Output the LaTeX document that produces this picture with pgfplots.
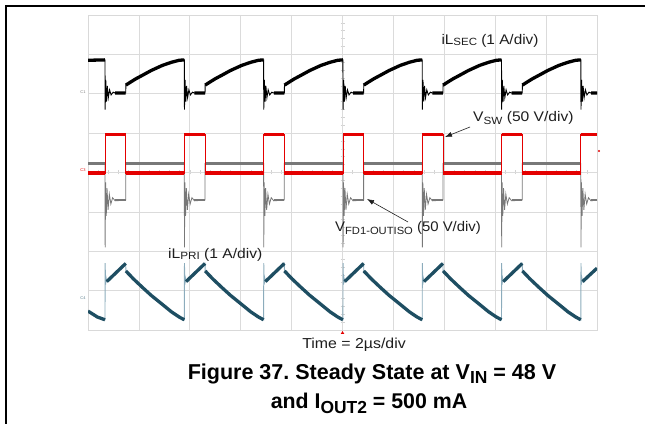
\documentclass[border=0pt]{standalone}
\usepackage{pgfplots}
\pgfplotsset{compat=1.18}
\usepackage{graphicx}
\usepackage{fontspec}
\setmainfont{Liberation Sans}
\frenchspacing
\usetikzlibrary{arrows.meta}
\definecolor{teal4}{RGB}{30,78,98}
\definecolor{teallt}{RGB}{140,172,188}
\definecolor{redc}{RGB}{228,0,0}
\definecolor{grayc}{RGB}{120,120,120}
\definecolor{txt}{RGB}{30,30,30}
\newcommand{\sm}[2]{\raisebox{-#1bp}{\fontsize{10.5}{10.5}\selectfont #2}}
\begin{document}
\begin{tikzpicture}
\useasboundingbox (0,0) rectangle (645bp,424bp);
\draw[line width=1.6bp] (6bp,0) -- (6bp,418bp) -- (645bp,418bp);
% centre-line graticule ticks (background)
\foreach \i in {1,...,49} \draw[gray!35, line width=0.5bp] ({(88+\i*10.18)*1bp},249.5bp) -- ++(0,4bp);
\foreach \i in {1,...,39} \draw[gray!35, line width=0.5bp] (340.5bp,{(94+\i*7.875)*1bp}) -- ++(4bp,0);
\begin{axis}[at={(88bp,94bp)}, anchor=south west, scale only axis,
  width=509bp, height=315bp, xmin=0, xmax=10, ymin=0, ymax=8,
  xtick={0,...,10}, ytick={0,...,8}, xticklabels={}, yticklabels={},
  major tick length=0pt, grid=major,
  major grid style={draw=gray!28, line width=0.7bp},
  axis line style={draw=gray!30, line width=0.8bp},
  unbounded coords=jump, clip=true]
% ---- iL_SEC (black), thin full trace
\addplot[black, line width=0.9bp] coordinates {
(0,6.85)(0.334,6.86)(0.337,5.6)(0.349,6.35)(0.364,5.8)(0.379,6.2)(0.399,5.9)(0.424,6.1)(0.454,5.97)(0.494,6.04)(0.534,6.02)(0.741,6.02)
(0.744,6.22)(0.841,6.30)(0.941,6.38)(1.071,6.47)(1.241,6.59)(1.461,6.72)(1.641,6.80)(1.791,6.85)
(1.892,6.86)(1.895,5.6)(1.907,6.35)(1.922,5.8)(1.937,6.2)(1.957,5.9)(1.982,6.1)(2.012,5.97)(2.052,6.04)(2.092,6.02)(2.299,6.02)
(2.302,6.22)(2.399,6.30)(2.499,6.38)(2.629,6.47)(2.799,6.59)(3.019,6.72)(3.199,6.80)(3.349,6.85)
(3.450,6.86)(3.453,5.6)(3.465,6.35)(3.480,5.8)(3.495,6.2)(3.515,5.9)(3.540,6.1)(3.570,5.97)(3.610,6.04)(3.650,6.02)(3.857,6.02)
(3.860,6.22)(3.957,6.30)(4.057,6.38)(4.187,6.47)(4.357,6.59)(4.577,6.72)(4.757,6.80)(4.907,6.85)
(5.008,6.86)(5.011,5.6)(5.023,6.35)(5.038,5.8)(5.053,6.2)(5.073,5.9)(5.098,6.1)(5.128,5.97)(5.168,6.04)(5.208,6.02)(5.415,6.02)
(5.418,6.22)(5.515,6.30)(5.615,6.38)(5.745,6.47)(5.915,6.59)(6.135,6.72)(6.315,6.80)(6.465,6.85)
(6.566,6.86)(6.569,5.6)(6.581,6.35)(6.596,5.8)(6.611,6.2)(6.631,5.9)(6.656,6.1)(6.686,5.97)(6.726,6.04)(6.766,6.02)(6.973,6.02)
(6.976,6.22)(7.073,6.30)(7.173,6.38)(7.303,6.47)(7.473,6.59)(7.693,6.72)(7.873,6.80)(8.023,6.85)
(8.124,6.86)(8.127,5.6)(8.139,6.35)(8.154,5.8)(8.169,6.2)(8.189,5.9)(8.214,6.1)(8.244,5.97)(8.284,6.04)(8.324,6.02)(8.531,6.02)
(8.534,6.22)(8.631,6.30)(8.731,6.38)(8.861,6.47)(9.031,6.59)(9.251,6.72)(9.431,6.80)(9.581,6.85)
(9.682,6.86)(9.685,5.6)(9.697,6.35)(9.712,5.8)(9.727,6.2)(9.747,5.9)(9.772,6.1)(9.802,5.97)(9.842,6.04)(9.882,6.02)(10,6.02)
};
% thick parts
\addplot[black, line width=3.3bp] coordinates {
(0,6.85)(0.334,6.86) (0.334,nan)
(0.534,6.02)(0.741,6.02)(0.741,nan)
(0.744,6.22)(0.841,6.30)(0.941,6.38)(1.071,6.47)(1.241,6.59)(1.461,6.72)(1.641,6.80)(1.791,6.85)(1.892,6.86)(1.892,nan)
(2.092,6.02)(2.299,6.02)(2.299,nan)
(2.302,6.22)(2.399,6.30)(2.499,6.38)(2.629,6.47)(2.799,6.59)(3.019,6.72)(3.199,6.80)(3.349,6.85)(3.450,6.86)(3.450,nan)
(3.650,6.02)(3.857,6.02)(3.857,nan)
(3.860,6.22)(3.957,6.30)(4.057,6.38)(4.187,6.47)(4.357,6.59)(4.577,6.72)(4.757,6.80)(4.907,6.85)(5.008,6.86)(5.008,nan)
(5.208,6.02)(5.415,6.02)(5.415,nan)
(5.418,6.22)(5.515,6.30)(5.615,6.38)(5.745,6.47)(5.915,6.59)(6.135,6.72)(6.315,6.80)(6.465,6.85)(6.566,6.86)(6.566,nan)
(6.766,6.02)(6.973,6.02)(6.973,nan)
(6.976,6.22)(7.073,6.30)(7.173,6.38)(7.303,6.47)(7.473,6.59)(7.693,6.72)(7.873,6.80)(8.023,6.85)(8.124,6.86)(8.124,nan)
(8.324,6.02)(8.531,6.02)(8.531,nan)
(8.534,6.22)(8.631,6.30)(8.731,6.38)(8.861,6.47)(9.031,6.59)(9.251,6.72)(9.431,6.80)(9.581,6.85)(9.682,6.86)(9.682,nan)
(9.882,6.02)(10,6.02)
};
% ---- V_FD1-OUTISO (gray)
\addplot[grayc, line width=0.8bp] coordinates {
(0,4.23)(0.334,4.23)(0.337,2.1)(0.346,3.75)(0.359,2.9)(0.374,3.6)(0.394,3.05)(0.419,3.45)(0.449,3.2)(0.484,3.36)(0.534,3.28)(0.741,3.30)(0.741,4.23)
(1.892,4.23)(1.895,2.1)(1.904,3.75)(1.917,2.9)(1.932,3.6)(1.952,3.05)(1.977,3.45)(2.007,3.2)(2.042,3.36)(2.092,3.28)(2.299,3.30)(2.299,4.23)
(3.450,4.23)(3.453,2.1)(3.462,3.75)(3.475,2.9)(3.490,3.6)(3.510,3.05)(3.535,3.45)(3.565,3.2)(3.600,3.36)(3.650,3.28)(3.857,3.30)(3.857,4.23)
(5.008,4.23)(5.011,2.1)(5.020,3.75)(5.033,2.9)(5.048,3.6)(5.068,3.05)(5.093,3.45)(5.123,3.2)(5.158,3.36)(5.208,3.28)(5.415,3.30)(5.415,4.23)
(6.566,4.23)(6.569,2.1)(6.578,3.75)(6.591,2.9)(6.606,3.6)(6.626,3.05)(6.651,3.45)(6.681,3.2)(6.716,3.36)(6.766,3.28)(6.973,3.30)(6.973,4.23)
(8.124,4.23)(8.127,2.1)(8.136,3.75)(8.149,2.9)(8.164,3.6)(8.184,3.05)(8.209,3.45)(8.239,3.2)(8.274,3.36)(8.324,3.28)(8.531,3.30)(8.531,4.23)
(9.682,4.23)(9.685,2.1)(9.694,3.75)(9.707,2.9)(9.722,3.6)(9.742,3.05)(9.767,3.45)(9.797,3.2)(9.832,3.36)(9.882,3.28)(10,3.30)
};
\addplot[grayc, line width=2.6bp] coordinates {
(0,4.23)(0.334,4.23)(0.334,nan)(0.534,3.30)(0.741,3.30)(0.741,nan)
(0.741,4.23)(1.892,4.23)(1.892,nan)(2.092,3.30)(2.299,3.30)(2.299,nan)
(2.299,4.23)(3.450,4.23)(3.450,nan)(3.650,3.30)(3.857,3.30)(3.857,nan)
(3.857,4.23)(5.008,4.23)(5.008,nan)(5.208,3.30)(5.415,3.30)(5.415,nan)
(5.415,4.23)(6.566,4.23)(6.566,nan)(6.766,3.30)(6.973,3.30)(6.973,nan)
(6.973,4.23)(8.124,4.23)(8.124,nan)(8.324,3.30)(8.531,3.30)(8.531,nan)
(8.531,4.23)(9.682,4.23)(9.682,nan)(9.882,3.30)(10,3.30)
};
% ---- V_SW (red)
\addplot[redc, line width=0.7bp] coordinates {
(0,3.98)(0.334,3.98)(0.334,4.97)(0.741,4.97)(0.741,3.98)
(1.892,3.98)(1.892,4.97)(2.299,4.97)(2.299,3.98)
(3.450,3.98)(3.450,4.97)(3.857,4.97)(3.857,3.98)
(5.008,3.98)(5.008,4.97)(5.415,4.97)(5.415,3.98)
(6.566,3.98)(6.566,4.97)(6.973,4.97)(6.973,3.98)
(8.124,3.98)(8.124,4.97)(8.531,4.97)(8.531,3.98)
(9.682,3.98)(9.682,4.97)(10,4.97)
};
\addplot[redc, line width=3.6bp] coordinates {
(0,3.98)(0.334,3.98)(0.334,nan)(0.334,4.97)(0.741,4.97)(0.741,nan)
(0.741,3.98)(1.892,3.98)(1.892,nan)(1.892,4.97)(2.299,4.97)(2.299,nan)
(2.299,3.98)(3.450,3.98)(3.450,nan)(3.450,4.97)(3.857,4.97)(3.857,nan)
(3.857,3.98)(5.008,3.98)(5.008,nan)(5.008,4.97)(5.415,4.97)(5.415,nan)
(5.415,3.98)(6.566,3.98)(6.566,nan)(6.566,4.97)(6.973,4.97)(6.973,nan)
(6.973,3.98)(8.124,3.98)(8.124,nan)(8.124,4.97)(8.531,4.97)(8.531,nan)
(8.531,3.98)(9.682,3.98)(9.682,nan)(9.682,4.97)(10,4.97)
};
% ---- iL_PRI (teal)
\addplot[teallt, line width=0.9bp] coordinates {
(0,0.48)(0.184,0.33)(0.334,0.26)(0.337,1.70)(0.346,1.15)(0.354,1.33)(0.369,1.23)(0.741,1.69)
(0.744,1.50)(0.891,1.30)(1.071,1.08)(1.241,0.88)(1.461,0.65)(1.641,0.46)(1.791,0.33)
(1.892,0.26)(1.895,1.70)(1.904,1.15)(1.912,1.33)(1.927,1.23)(2.299,1.69)
(2.302,1.50)(2.449,1.30)(2.629,1.08)(2.799,0.88)(3.019,0.65)(3.199,0.46)(3.349,0.33)
(3.450,0.26)(3.453,1.70)(3.462,1.15)(3.470,1.33)(3.485,1.23)(3.857,1.69)
(3.860,1.50)(4.007,1.30)(4.187,1.08)(4.357,0.88)(4.577,0.65)(4.757,0.46)(4.907,0.33)
(5.008,0.26)(5.011,1.70)(5.020,1.15)(5.028,1.33)(5.043,1.23)(5.415,1.69)
(5.418,1.50)(5.565,1.30)(5.745,1.08)(5.915,0.88)(6.135,0.65)(6.315,0.46)(6.465,0.33)
(6.566,0.26)(6.569,1.70)(6.578,1.15)(6.586,1.33)(6.601,1.23)(6.973,1.69)
(6.976,1.50)(7.123,1.30)(7.303,1.08)(7.473,0.88)(7.693,0.65)(7.873,0.46)(8.023,0.33)
(8.124,0.26)(8.127,1.70)(8.136,1.15)(8.144,1.33)(8.159,1.23)(8.531,1.69)
(8.534,1.50)(8.681,1.30)(8.861,1.08)(9.031,0.88)(9.251,0.65)(9.431,0.46)(9.581,0.33)
(9.682,0.26)(9.685,1.70)(9.694,1.15)(9.702,1.33)(9.717,1.23)(10,1.57)
};
\addplot[teal4, line width=3.3bp] coordinates {
(0,0.48)(0.184,0.33)(0.334,0.26)(0.334,nan)(0.369,1.23)(0.741,1.69)(0.741,nan)
(0.744,1.50)(0.891,1.30)(1.071,1.08)(1.241,0.88)(1.461,0.65)(1.641,0.46)(1.791,0.33)(1.892,0.26)(1.892,nan)
(1.927,1.23)(2.299,1.69)(2.299,nan)
(2.302,1.50)(2.449,1.30)(2.629,1.08)(2.799,0.88)(3.019,0.65)(3.199,0.46)(3.349,0.33)(3.450,0.26)(3.450,nan)
(3.485,1.23)(3.857,1.69)(3.857,nan)
(3.860,1.50)(4.007,1.30)(4.187,1.08)(4.357,0.88)(4.577,0.65)(4.757,0.46)(4.907,0.33)(5.008,0.26)(5.008,nan)
(5.043,1.23)(5.415,1.69)(5.415,nan)
(5.418,1.50)(5.565,1.30)(5.745,1.08)(5.915,0.88)(6.135,0.65)(6.315,0.46)(6.465,0.33)(6.566,0.26)(6.566,nan)
(6.601,1.23)(6.973,1.69)(6.973,nan)
(6.976,1.50)(7.123,1.30)(7.303,1.08)(7.473,0.88)(7.693,0.65)(7.873,0.46)(8.023,0.33)(8.124,0.26)(8.124,nan)
(8.159,1.23)(8.531,1.69)(8.531,nan)
(8.534,1.50)(8.681,1.30)(8.861,1.08)(9.031,0.88)(9.251,0.65)(9.431,0.46)(9.581,0.33)(9.682,0.26)(9.682,nan)
(9.717,1.23)(10,1.57)
};
\end{axis}
% channel markers
\node[font=\fontsize{4}{4}\selectfont, text=gray] at (83bp,332bp) {C1};
\node[font=\fontsize{4}{4}\selectfont, text=redc] at (83bp,254bp) {C3};
\node[font=\fontsize{4}{4}\selectfont, text=teal4!70] at (83bp,126bp) {C4};
% trigger markers
\fill[redc] (342.5bp,93bp) -- ++(-1.8bp,-3bp) -- ++(3.6bp,0) -- cycle;
\fill[redc] (599bp,273bp) circle (1.2bp);
% annotations
\node[anchor=base, text=txt, font=\fontsize{14}{14}\selectfont] at (490bp,379bp) {\scalebox{1.1}[1]{iL\sm{1}{SEC} (1 A/div)}};
\node[anchor=base west, text=txt, font=\fontsize{14}{14}\selectfont, inner sep=0] at (473bp,302bp) {\scalebox{1.12}[1]{V\sm{2.5}{SW} (50 V/div)}};
\draw[-{Latex[length=7bp,width=5bp]}, line width=0.6bp, txt] (470bp,297bp) -- (445bp,287bp);
\node[anchor=base west, text=txt, font=\fontsize{14}{14}\selectfont, inner sep=0] at (335bp,192bp) {\scalebox{1.07}[1]{V\sm{2.5}{FD1-OUTISO} (50 V/div)}};
\draw[-{Latex[length=7bp,width=5bp]}, line width=0.6bp, txt] (408bp,202bp) -- (367bp,225bp);
\node[anchor=base west, text=txt, font=\fontsize{14}{14}\selectfont, inner sep=0] at (168bp,165bp) {\scalebox{1.12}[1]{iL\sm{1}{PRI} (1 A/div)}};
\node[anchor=base, text=txt, font=\fontsize{14.5}{14.5}\selectfont] at (354bp,75bp) {\scalebox{1.1}[1]{Time = 2µs/div}};
\node[anchor=base, font=\bfseries\fontsize{21.6}{21.6}\selectfont] at (372bp,44bp) {Figure 37. Steady State at V\raisebox{-4bp}{\fontsize{17.5}{17.5}\selectfont IN} = 48 V};
\node[anchor=base, font=\bfseries\fontsize{21.4}{21.4}\selectfont] at (369bp,16bp) {and I\raisebox{-5bp}{\fontsize{17.5}{17.5}\selectfont OUT2} = 500 mA};
\end{tikzpicture}
\end{document}
